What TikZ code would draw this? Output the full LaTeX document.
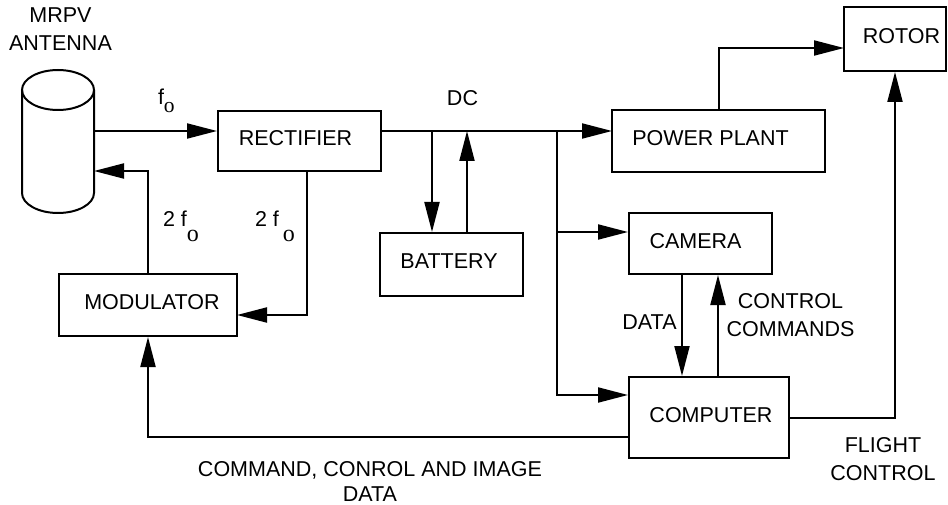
\documentclass[tikz,border=0pt]{standalone}
\usepackage{fontspec}
\setmainfont{Liberation Sans}
\newfontfamily\serifo{Liberation Serif}
\usetikzlibrary{arrows.meta}
\begin{document}
\begin{tikzpicture}[x=1pt,y=-1pt,line width=2pt,
  every node/.style={font=\fontsize{21.5pt}{28pt}\selectfont},
  box/.style 2 args={draw,line width=2pt,minimum width=#1,minimum height=#2,inner sep=0pt,text depth=6pt},
  lab/.style={inner sep=0pt,align=center},
  arr/.style={-{Triangle[length=30pt,width=15pt]}}]
\useasboundingbox (0,0) rectangle (948,505);
% boxes
\node[box={163pt}{60pt}] (rect) at (299.5,141) {RECTIFIER\hspace*{8pt}};
\node[box={143pt}{63pt}] (batt) at (451.5,264.5) {BATTERY\hspace*{5pt}};
\node[box={178pt}{62pt}] (mod) at (148,305) {\hspace*{8pt}MODULATOR};
\node[box={213pt}{62pt}] (pp) at (718.5,141) {POWER PLANT\hspace*{16pt}};
\node[box={102pt}{64pt}] (rot) at (895,39) {\hspace*{13pt}ROTOR};
\node[box={143pt}{61pt}] (cam) at (700.5,243.5) {CAMERA\hspace*{10pt}};
\node[box={160pt}{81pt}] (comp) at (709,417.5) {\hspace*{4pt}COMPUTER};
% antenna
\draw (58,90) ellipse [x radius=36pt, y radius=20pt];
\draw (22,90) -- (22,193) arc[start angle=180,end angle=360,x radius=36pt,y radius=20pt] -- (94,90);
% coordinates
\coordinate (a1) at (94,131);
\coordinate (a2) at (94,171);
\coordinate (r2) at (307,171);
\coordinate (m2) at (237,315);
\coordinate (d0) at (381,131);
\coordinate (d1) at (612,131);
\coordinate (b1) at (432,131);
\coordinate (b2) at (467,131);
\coordinate (j0) at (557,131);
\coordinate (j1) at (557,232);
\coordinate (j2) at (557,395);
\coordinate (rw) at (844,48);
\coordinate (dd) at (682,300);
\coordinate (cc) at (718,300);
\coordinate (cb) at (629,437);
% connectors
\draw[arr] (a1) -- (a1 -| rect.west);
\draw[arr] (r2) |- (m2);
\draw[arr] (mod.north) |- (a2);
\draw[arr] (d0) -- (d1);
\draw[arr] (b1) -- (b1 |- batt.north);
\draw[arr] (b2 |- batt.north) -- (b2);
\draw[arr] (j0) |- (comp.west |- j2);
\draw[arr] (j1) -- (cam.west |- j1);
\draw[arr] (pp.north) |- (rw);
\draw[arr] (cam.south -| dd) -- (comp.north -| dd);
\draw[arr] (comp.north -| cc) -- (cam.south -| cc);
\draw[arr] (comp.east) -| (rot.south);
\draw[arr] (cb) -| (mod.south);
% labels
\node[lab,anchor=base west] (lf) at (157,105) {f\raisebox{-8pt}{\serifo o}};
\node[lab,anchor=base west] (l2a) at (162,227) {2 f\raisebox{-15pt}{\serifo\fontsize{24pt}{28pt}\selectfont o}};
\node[lab,anchor=base west] (l2b) at (254,227) {2 f\hspace{4pt}\raisebox{-15pt}{\serifo\fontsize{24pt}{28pt}\selectfont o}};
\node[lab] (ldc) at (462.5,98.5) {DC};
\node[lab] (lant) at (60.5,28.75) {MRPV\\ANTENNA};
\node[lab] (ldata) at (649.5,322.5) {DATA};
\node[lab] (lcc) at (790.5,315) {CONTROL\\COMMANDS};
\node[lab] (lfc) at (883,459) {FLIGHT\\CONTROL};
\node[lab,font=\fontsize{21.5pt}{25pt}\selectfont] (lcmd) at (370,481) {COMMAND, CONROL AND IMAGE\\DATA};
\end{tikzpicture}
\end{document}
